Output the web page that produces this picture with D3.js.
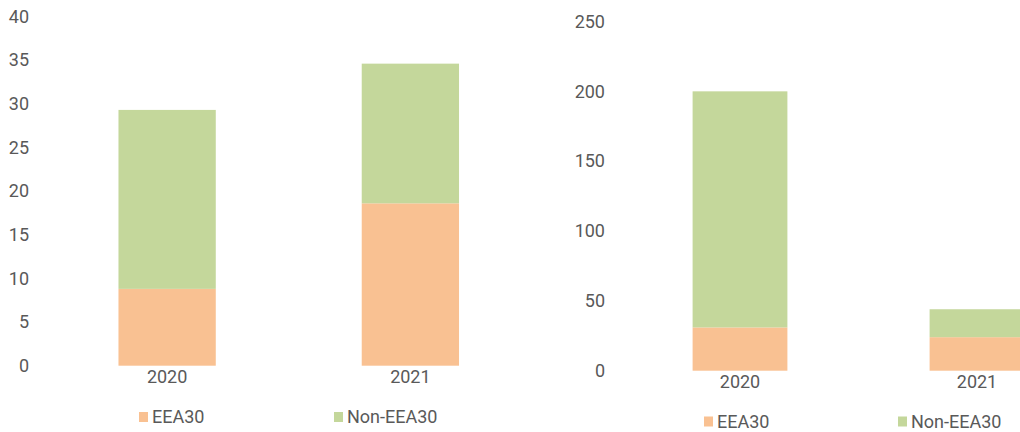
<!DOCTYPE html>
<html><head><meta charset="utf-8">
<script src="https://cdn.jsdelivr.net/npm/d3@7"></script>
<style>body{margin:0;background:#fff;} svg{display:block;} text{font-family:Roboto, "Liberation Sans", sans-serif;fill:#595959;}</style>
</head><body>
<svg id="c" width="1020" height="432"></svg>
<script>
const categories = ["2020", "2021"];
const seriesNames = ["EEA30", "Non-EEA30"];
const leftEEA = [8.8, 18.6];
const leftNonEEA = [20.5, 16.0];
const leftTicks = [0, 5, 10, 15, 20, 25, 30, 35, 40];
const rightEEA = [31, 24];
const rightNonEEA = [169, 20];
const rightTicks = [0, 50, 100, 150, 200, 250];
const colors = ["#F9C192", "#C4D79B"];

const svg = d3.select("#c");
const FS = "18px";

function panel(cfg) {
  const x = d3.scaleBand().domain(categories).range(cfg.xr).paddingInner(0.6).paddingOuter(0.3);
  const y = d3.scaleLinear().domain([0, d3.max(cfg.ticks)]).range(cfg.yr);
  const rows = categories.map((c, i) => ({cat: c, "EEA30": cfg.a[i], "Non-EEA30": cfg.b[i]}));
  const stack = d3.stack().keys(seriesNames)(rows);
  const g = svg.append("g");
  g.selectAll("g.s").data(stack).join("g").attr("fill", (d, i) => colors[i])
    .selectAll("rect").data(d => d).join("rect")
    .attr("x", d => x(d.data.cat)).attr("width", x.bandwidth())
    .attr("y", d => y(d[1])).attr("height", d => y(d[0]) - y(d[1]));
  const ya = d3.axisLeft(y).tickValues(cfg.ticks).tickSize(0).tickPadding(0);
  const yg = g.append("g").attr("transform", `translate(${cfg.yLabelX},0)`).call(ya);
  yg.select(".domain").remove();
  yg.selectAll("text").style("font-size", FS).style("fill", "#595959").style("font-family", "Roboto, sans-serif");
  const xa = d3.axisBottom(x).tickSize(0).tickPadding(0);
  const xg = g.append("g").attr("transform", `translate(0,${cfg.yr[0] + cfg.xLabelDy})`).call(xa);
  xg.select(".domain").remove();
  xg.selectAll("text").style("font-size", FS).style("fill", "#595959").style("font-family", "Roboto, sans-serif");
  const lg = g.selectAll("g.leg").data(seriesNames).join("g")
    .attr("transform", (d, i) => `translate(${cfg.legX[i]},${cfg.legY})`);
  lg.append("rect").attr("x", 0).attr("y", -5).attr("width", 9).attr("height", 10).attr("fill", (d, i) => colors[i]);
  lg.append("text").attr("x", 13).attr("y", 0).attr("dy", "0.35em").text(d => d)
    .style("font-size", FS);
}

panel({xr: [45.5, 532], yr: [365.7, 16.5], ticks: leftTicks, a: leftEEA, b: leftNonEEA,
  yLabelX: 29, xLabelDy: 5, legX: [139, 334], legY: 417});
panel({xr: [621.5, 1095.5], yr: [370.7, 21.5], ticks: rightTicks, a: rightEEA, b: rightNonEEA,
  yLabelX: 605, xLabelDy: 5, legX: [704, 898], legY: 421.5});
</script>
</body></html>
